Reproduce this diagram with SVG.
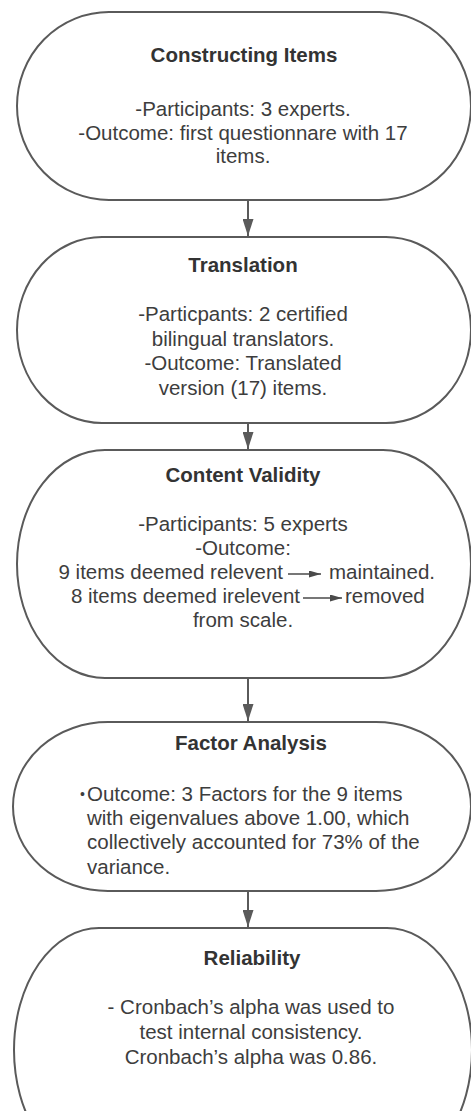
<svg xmlns="http://www.w3.org/2000/svg" width="471" height="1111" viewBox="0 0 471 1111">
<style>
.box{fill:#fff;stroke:#5a5a5a;stroke-width:2}
.t{font-family:"Liberation Sans",Arial,sans-serif;font-size:20.5px;font-weight:bold;fill:#333;text-anchor:middle}
.b{font-family:"Liberation Sans",Arial,sans-serif;font-size:20.5px;fill:#3d3d3d;text-anchor:middle}
.l{text-anchor:start}
.e{text-anchor:end}
.c{stroke:#5a5a5a;stroke-width:2;fill:none}
.s{stroke:#4a4a4a;stroke-width:1.6;fill:none}
</style>
<defs>
<marker id="ah" viewBox="0 0 17 11" refX="17" refY="5.5" markerWidth="17" markerHeight="11" markerUnits="userSpaceOnUse" orient="auto">
<path d="M0,0 L17,5.5 L0,11 z" fill="#5a5a5a"/>
</marker>
<marker id="sh" viewBox="0 0 12 7" refX="12" refY="3.5" markerWidth="12" markerHeight="7" markerUnits="userSpaceOnUse" orient="auto">
<path d="M0,0 L12,3.5 L0,7 z" fill="#4a4a4a"/>
</marker>
</defs>
<rect width="471" height="1111" fill="#fff"/>
<g id="connectors">
<line class="c" x1="248" y1="200" x2="248" y2="236" marker-end="url(#ah)"/>
<line class="c" x1="248" y1="423" x2="248" y2="449" marker-end="url(#ah)"/>
<line class="c" x1="248" y1="678" x2="248" y2="721" marker-end="url(#ah)"/>
<line class="c" x1="248" y1="891" x2="248" y2="927" marker-end="url(#ah)"/>
</g>
<g id="n1">
<rect class="box" x="17" y="12" width="454" height="188" rx="92" ry="94"/>
<text class="t" x="244" y="62">Constructing Items</text>
<text class="b" x="243" y="116">-Participants: 3 experts.</text>
<text class="b" x="243" y="139.5">-Outcome: first questionnare with 17</text>
<text class="b" x="243" y="163">items.</text>
</g>
<g id="n2">
<rect class="box" x="17" y="237" width="454" height="186" rx="85" ry="93"/>
<text class="t" x="243" y="272">Translation</text>
<text class="b" x="243" y="321">-Particpants: 2 certified</text>
<text class="b" x="243" y="345.5">bilingual translators.</text>
<text class="b" x="243" y="370">-Outcome: Translated</text>
<text class="b" x="243" y="394.5">version (17) items.</text>
</g>
<g id="n3">
<rect class="box" x="17" y="450" width="454" height="228" rx="88" ry="114"/>
<text class="t" x="243" y="482">Content Validity</text>
<text class="b" x="243" y="531">-Participants: 5 experts</text>
<text class="b" x="243" y="555">-Outcome:</text>
<text class="b e" x="283" y="579">9 items deemed relevent</text>
<line class="s" x1="288" y1="574" x2="321" y2="574" marker-end="url(#sh)"/>
<text class="b l" x="329" y="579">maintained.</text>
<text class="b e" x="300" y="603">8 items deemed irelevent</text>
<line class="s" x1="303" y1="598" x2="342" y2="598" marker-end="url(#sh)"/>
<text class="b l" x="345" y="603">removed</text>
<text class="b" x="243" y="627">from scale.</text>
</g>
<g id="n4">
<rect class="box" x="13" y="722" width="458" height="169" rx="95" ry="84.5"/>
<text class="t" x="251" y="750">Factor Analysis</text>
<text class="b l" x="80" y="799" style="font-size:14px">•</text>
<text class="b l" x="87" y="801">Outcome: 3 Factors for the 9 items</text>
<text class="b l" x="87" y="825">with eigenvalues above 1.00, which</text>
<text class="b l" x="87" y="849">collectively accounted for 73% of the</text>
<text class="b l" x="87" y="874">variance.</text>
</g>
<g id="n5">
<rect class="box" x="14" y="928" width="458" height="244" rx="85" ry="122"/>
<text class="t" x="252" y="965">Reliability</text>
<text class="b" x="251" y="1014">- Cronbach’s alpha was used to</text>
<text class="b" x="251" y="1039">test internal consistency.</text>
<text class="b" x="251" y="1064">Cronbach’s alpha was 0.86.</text>
</g>
</svg>
